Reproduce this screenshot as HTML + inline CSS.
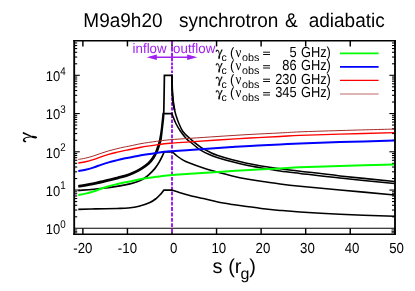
<!DOCTYPE html>
<html><head><meta charset="utf-8"><title>plot</title>
<style>html,body{margin:0;padding:0;background:#fff;}body{width:415px;height:291px;overflow:hidden;position:relative;font-family:"Liberation Sans",sans-serif;}</style>
</head><body>
<svg width="415" height="291" viewBox="0 0 415 291" style="position:absolute;left:0;top:0;will-change:transform">
<rect width="415" height="291" fill="#fff"/>
<g stroke="#000" stroke-width="1.10" fill="none">
<line x1="74.20" y1="216.79" x2="77.20" y2="216.79"/>
<line x1="395.00" y1="216.79" x2="392.00" y2="216.79"/>
<line x1="74.20" y1="210.05" x2="77.20" y2="210.05"/>
<line x1="395.00" y1="210.05" x2="392.00" y2="210.05"/>
<line x1="74.20" y1="205.27" x2="77.20" y2="205.27"/>
<line x1="395.00" y1="205.27" x2="392.00" y2="205.27"/>
<line x1="74.20" y1="201.56" x2="77.20" y2="201.56"/>
<line x1="395.00" y1="201.56" x2="392.00" y2="201.56"/>
<line x1="74.20" y1="198.54" x2="77.20" y2="198.54"/>
<line x1="395.00" y1="198.54" x2="392.00" y2="198.54"/>
<line x1="74.20" y1="195.97" x2="77.20" y2="195.97"/>
<line x1="395.00" y1="195.97" x2="392.00" y2="195.97"/>
<line x1="74.20" y1="193.76" x2="77.20" y2="193.76"/>
<line x1="395.00" y1="193.76" x2="392.00" y2="193.76"/>
<line x1="74.20" y1="191.80" x2="77.20" y2="191.80"/>
<line x1="395.00" y1="191.80" x2="392.00" y2="191.80"/>
<line x1="74.20" y1="190.05" x2="79.80" y2="190.05"/>
<line x1="395.00" y1="190.05" x2="389.40" y2="190.05"/>
<line x1="74.20" y1="178.54" x2="77.20" y2="178.54"/>
<line x1="395.00" y1="178.54" x2="392.00" y2="178.54"/>
<line x1="74.20" y1="171.80" x2="77.20" y2="171.80"/>
<line x1="395.00" y1="171.80" x2="392.00" y2="171.80"/>
<line x1="74.20" y1="167.02" x2="77.20" y2="167.02"/>
<line x1="395.00" y1="167.02" x2="392.00" y2="167.02"/>
<line x1="74.20" y1="163.31" x2="77.20" y2="163.31"/>
<line x1="395.00" y1="163.31" x2="392.00" y2="163.31"/>
<line x1="74.20" y1="160.29" x2="77.20" y2="160.29"/>
<line x1="395.00" y1="160.29" x2="392.00" y2="160.29"/>
<line x1="74.20" y1="157.72" x2="77.20" y2="157.72"/>
<line x1="395.00" y1="157.72" x2="392.00" y2="157.72"/>
<line x1="74.20" y1="155.51" x2="77.20" y2="155.51"/>
<line x1="395.00" y1="155.51" x2="392.00" y2="155.51"/>
<line x1="74.20" y1="153.55" x2="77.20" y2="153.55"/>
<line x1="395.00" y1="153.55" x2="392.00" y2="153.55"/>
<line x1="74.20" y1="151.80" x2="79.80" y2="151.80"/>
<line x1="395.00" y1="151.80" x2="389.40" y2="151.80"/>
<line x1="74.20" y1="140.29" x2="77.20" y2="140.29"/>
<line x1="395.00" y1="140.29" x2="392.00" y2="140.29"/>
<line x1="74.20" y1="133.55" x2="77.20" y2="133.55"/>
<line x1="395.00" y1="133.55" x2="392.00" y2="133.55"/>
<line x1="74.20" y1="128.77" x2="77.20" y2="128.77"/>
<line x1="395.00" y1="128.77" x2="392.00" y2="128.77"/>
<line x1="74.20" y1="125.06" x2="77.20" y2="125.06"/>
<line x1="395.00" y1="125.06" x2="392.00" y2="125.06"/>
<line x1="74.20" y1="122.04" x2="77.20" y2="122.04"/>
<line x1="395.00" y1="122.04" x2="392.00" y2="122.04"/>
<line x1="74.20" y1="119.47" x2="77.20" y2="119.47"/>
<line x1="395.00" y1="119.47" x2="392.00" y2="119.47"/>
<line x1="74.20" y1="117.26" x2="77.20" y2="117.26"/>
<line x1="395.00" y1="117.26" x2="392.00" y2="117.26"/>
<line x1="74.20" y1="115.30" x2="77.20" y2="115.30"/>
<line x1="395.00" y1="115.30" x2="392.00" y2="115.30"/>
<line x1="74.20" y1="113.55" x2="79.80" y2="113.55"/>
<line x1="395.00" y1="113.55" x2="389.40" y2="113.55"/>
<line x1="74.20" y1="102.04" x2="77.20" y2="102.04"/>
<line x1="395.00" y1="102.04" x2="392.00" y2="102.04"/>
<line x1="74.20" y1="95.30" x2="77.20" y2="95.30"/>
<line x1="395.00" y1="95.30" x2="392.00" y2="95.30"/>
<line x1="74.20" y1="90.52" x2="77.20" y2="90.52"/>
<line x1="395.00" y1="90.52" x2="392.00" y2="90.52"/>
<line x1="74.20" y1="86.81" x2="77.20" y2="86.81"/>
<line x1="395.00" y1="86.81" x2="392.00" y2="86.81"/>
<line x1="74.20" y1="83.79" x2="77.20" y2="83.79"/>
<line x1="395.00" y1="83.79" x2="392.00" y2="83.79"/>
<line x1="74.20" y1="81.22" x2="77.20" y2="81.22"/>
<line x1="395.00" y1="81.22" x2="392.00" y2="81.22"/>
<line x1="74.20" y1="79.01" x2="77.20" y2="79.01"/>
<line x1="395.00" y1="79.01" x2="392.00" y2="79.01"/>
<line x1="74.20" y1="77.05" x2="77.20" y2="77.05"/>
<line x1="395.00" y1="77.05" x2="392.00" y2="77.05"/>
<line x1="74.20" y1="75.30" x2="79.80" y2="75.30"/>
<line x1="395.00" y1="75.30" x2="389.40" y2="75.30"/>
<line x1="74.20" y1="63.79" x2="77.20" y2="63.79"/>
<line x1="395.00" y1="63.79" x2="392.00" y2="63.79"/>
<line x1="74.20" y1="57.05" x2="77.20" y2="57.05"/>
<line x1="395.00" y1="57.05" x2="392.00" y2="57.05"/>
<line x1="74.20" y1="52.27" x2="77.20" y2="52.27"/>
<line x1="395.00" y1="52.27" x2="392.00" y2="52.27"/>
<line x1="74.20" y1="48.56" x2="77.20" y2="48.56"/>
<line x1="395.00" y1="48.56" x2="392.00" y2="48.56"/>
<line x1="74.20" y1="45.54" x2="77.20" y2="45.54"/>
<line x1="395.00" y1="45.54" x2="392.00" y2="45.54"/>
<line x1="74.20" y1="42.97" x2="77.20" y2="42.97"/>
<line x1="395.00" y1="42.97" x2="392.00" y2="42.97"/>
</g>
<g stroke="#000" stroke-width="1.45" fill="none">
<line x1="82.88" y1="234.30" x2="82.88" y2="228.30"/>
<line x1="82.88" y1="40.80" x2="82.88" y2="46.40"/>
<line x1="127.44" y1="234.30" x2="127.44" y2="228.30"/>
<line x1="127.44" y1="40.80" x2="127.44" y2="46.40"/>
<line x1="172.00" y1="234.30" x2="172.00" y2="228.30"/>
<line x1="172.00" y1="40.80" x2="172.00" y2="46.40"/>
<line x1="216.56" y1="234.30" x2="216.56" y2="228.30"/>
<line x1="216.56" y1="40.80" x2="216.56" y2="46.40"/>
<line x1="261.12" y1="234.30" x2="261.12" y2="228.30"/>
<line x1="261.12" y1="40.80" x2="261.12" y2="46.40"/>
<line x1="305.68" y1="234.30" x2="305.68" y2="228.30"/>
<line x1="305.68" y1="40.80" x2="305.68" y2="46.40"/>
<line x1="350.24" y1="234.30" x2="350.24" y2="228.30"/>
<line x1="350.24" y1="40.80" x2="350.24" y2="46.40"/>
<line x1="394.80" y1="234.30" x2="394.80" y2="228.30"/>
<line x1="394.80" y1="40.80" x2="394.80" y2="46.40"/>
</g>
<g stroke="#000" stroke-width="0.90" fill="none">
<line x1="74.20" y1="229.90" x2="77.20" y2="229.90"/>
<line x1="395.00" y1="229.90" x2="391.50" y2="229.90"/>
<line x1="74.20" y1="231.40" x2="77.20" y2="231.40"/>
<line x1="395.00" y1="231.40" x2="391.50" y2="231.40"/>
<line x1="74.20" y1="232.75" x2="77.20" y2="232.75"/>
<line x1="395.00" y1="232.75" x2="391.50" y2="232.75"/>
</g>
<line x1="74.20" y1="228.30" x2="395.00" y2="228.30" stroke="#000" stroke-width="1.1"/>
<line x1="172.0" y1="40.80" x2="172.0" y2="234.30" stroke="#a020f0" stroke-width="2.0" stroke-dasharray="3.40 2.10 5.30 1.10 8.50 1.20 2.90 1.00 2.90 1.20 2.60 1.20 3.48 1.44 3.06 1.44 3.16 1.44 3.26 1.44 3.26 1.44 3.16 1.44 3.56 1.44 3.36 1.44 6.06 1.44 3.51 1.44 3.46 1.44 3.71 1.44 3.71 1.44 3.71 1.44 3.76 1.44 3.76 1.44 4.16 1.44 3.91 1.44 4.01 1.44 4.06 1.44 3.56 1.44 3.26 1.44 3.26 1.44 3.71 1.44 3.71 1.44 3.71 1.44 4.11 1.44 3.96 1.44 3.86 1.44 3.86 1.44 3.66 1.44 0.68 5.00"/>
<line x1="150" y1="57.30" x2="194" y2="57.30" stroke="#a020f0" stroke-width="1.4"/>
<path d="M146.7 57.30 L156.8 54.60 L156.8 60.00 Z" fill="#a020f0"/>
<path d="M197.3 57.30 L187.2 54.60 L187.2 60.00 Z" fill="#a020f0"/>
<g stroke="#000" stroke-width="1.55" fill="none" stroke-linejoin="miter" stroke-linecap="butt">
<path d="M172.00 75.30 C172.02 77.25 172.00 83.58 172.10 87.00 C172.20 90.42 172.37 92.90 172.60 95.80 C172.83 98.70 173.17 102.03 173.50 104.40 C173.83 106.77 174.17 108.12 174.60 110.00 C175.03 111.88 175.38 113.45 176.10 115.70 C176.82 117.95 177.80 120.92 178.90 123.50 C180.00 126.08 180.98 128.80 182.70 131.20 C184.42 133.60 186.22 135.25 189.20 137.90 C192.18 140.55 196.98 144.63 200.60 147.10 C204.22 149.57 208.03 151.32 210.90 152.70 C213.77 154.08 214.23 154.23 217.80 155.40 C221.37 156.57 227.47 158.40 232.30 159.70 C237.13 161.00 241.98 162.17 246.80 163.20 C251.62 164.23 255.67 164.97 261.20 165.90 C266.73 166.83 273.53 167.92 280.00 168.80 C286.47 169.68 290.00 170.02 300.00 171.20 C310.00 172.38 324.25 174.18 340.00 175.90 C355.75 177.62 385.42 180.57 394.50 181.50"/>
<path d="M171.90 113.55 C172.03 113.91 172.03 114.04 172.70 115.70 C173.37 117.36 174.60 120.92 175.90 123.50 C177.20 126.08 178.72 128.63 180.50 131.20 C182.28 133.77 184.97 137.12 186.60 138.90 C188.23 140.68 187.97 140.02 190.30 141.90 C192.63 143.78 197.17 147.97 200.60 150.20 C204.03 152.43 208.03 154.05 210.90 155.30 C213.77 156.55 214.23 156.62 217.80 157.70 C221.37 158.78 227.47 160.53 232.30 161.80 C237.13 163.07 241.98 164.28 246.80 165.30 C251.62 166.32 255.67 166.97 261.20 167.90 C266.73 168.83 273.53 169.98 280.00 170.90 C286.47 171.82 290.00 172.20 300.00 173.40 C310.00 174.60 324.25 176.42 340.00 178.10 C355.75 179.78 385.42 182.60 394.50 183.50"/>
<path d="M172.00 151.80 C172.17 151.92 172.17 151.80 173.00 152.50 C173.83 153.20 175.32 154.73 177.00 156.00 C178.68 157.27 181.12 158.97 183.10 160.10 C185.08 161.23 185.52 161.47 188.90 162.80 C192.28 164.13 198.58 166.52 203.40 168.10 C208.22 169.68 212.98 171.00 217.80 172.30 C222.62 173.60 227.47 174.80 232.30 175.90 C237.13 177.00 241.98 178.02 246.80 178.90 C251.62 179.78 255.67 180.35 261.20 181.20 C266.73 182.05 273.53 183.15 280.00 184.00 C286.47 184.85 290.00 185.30 300.00 186.30 C310.00 187.30 324.25 188.57 340.00 190.00 C355.75 191.43 385.42 194.08 394.50 194.90"/>
<path d="M171.60 190.05 C173.00 190.49 177.12 191.84 180.00 192.70 C182.88 193.56 185.00 194.22 188.90 195.20 C192.80 196.18 198.58 197.47 203.40 198.60 C208.22 199.73 212.98 201.03 217.80 202.00 C222.62 202.97 227.47 203.67 232.30 204.40 C237.13 205.13 241.98 205.73 246.80 206.40 C251.62 207.07 255.67 207.73 261.20 208.40 C266.73 209.07 273.53 209.80 280.00 210.40 C286.47 211.00 290.00 211.37 300.00 212.00 C310.00 212.63 324.25 213.48 340.00 214.20 C355.75 214.92 385.42 215.95 394.50 216.30"/>
</g>
<g stroke="#000" stroke-width="1.7" fill="none" stroke-linejoin="miter" stroke-linecap="butt">
<path d="M78.39 186.84 C81.18 186.36 89.82 185.02 95.11 183.94 C100.40 182.85 106.29 181.27 110.13 180.33 C113.97 179.40 115.55 178.98 118.13 178.33 C120.72 177.68 123.15 177.21 125.66 176.42 C128.18 175.64 130.62 174.78 133.23 173.60 C135.83 172.42 138.65 171.02 141.29 169.37 C143.93 167.72 146.99 165.61 149.07 163.71 C151.15 161.80 152.45 159.82 153.75 157.91 C155.06 156.00 155.99 154.25 156.90 152.23 C157.81 150.20 158.57 147.78 159.22 145.77 C159.88 143.76 160.35 142.78 160.83 140.15 C161.31 137.52 161.70 133.36 162.10 130.00 C162.50 126.64 162.97 122.83 163.25 120.00 C163.53 117.17 163.61 117.17 163.75 113.00 C163.89 108.83 163.99 101.28 164.10 95.00 C164.21 88.72 164.35 78.58 164.40 75.30 L172.60 75.30"/>
<path d="M78.21 185.76 C80.99 185.28 89.61 183.94 94.89 182.86 C100.17 181.78 106.04 180.20 109.87 179.27 C113.70 178.33 115.29 177.92 117.87 177.27 C120.44 176.62 122.85 176.15 125.34 175.38 C127.82 174.60 130.21 173.76 132.77 172.60 C135.34 171.44 138.12 170.05 140.71 168.43 C143.30 166.82 146.31 164.75 148.33 162.89 C150.35 161.04 151.58 159.14 152.85 157.29 C154.11 155.44 155.01 153.75 155.90 151.77 C156.79 149.80 157.53 147.42 158.18 145.43 C158.82 143.44 159.23 142.42 159.77 139.85 C160.31 137.28 160.95 133.31 161.40 130.00 C161.85 126.69 162.20 122.74 162.50 120.00 C162.80 117.26 163.08 114.62 163.20 113.55 L172.50 113.55"/>
<path d="M78.30 190.60 C82.07 190.25 93.95 189.28 100.90 188.50 C107.85 187.72 115.15 186.67 120.00 185.90 C124.85 185.13 127.03 184.63 130.00 183.90 C132.97 183.17 135.55 182.37 137.80 181.50 C140.05 180.63 141.68 179.82 143.50 178.70 C145.32 177.58 146.82 176.48 148.70 174.80 C150.58 173.12 153.00 170.80 154.80 168.60 C156.60 166.40 158.20 163.78 159.50 161.60 C160.80 159.42 161.83 157.13 162.60 155.50 C163.37 153.87 163.85 152.42 164.10 151.80 L172.60 151.80"/>
<path d="M78.30 209.30 C81.20 209.23 89.18 209.03 95.70 208.90 C102.22 208.77 111.98 208.65 117.40 208.50 C122.82 208.35 124.60 208.37 128.20 208.00 C131.80 207.63 135.38 207.20 139.00 206.30 C142.62 205.40 147.00 203.93 149.90 202.60 C152.80 201.27 154.60 199.72 156.40 198.30 C158.20 196.88 159.67 195.18 160.70 194.10 C161.73 193.02 162.07 192.48 162.60 191.80 C163.13 191.12 163.68 190.34 163.90 190.05 L172.20 190.05"/>
<path d="M172.00 75.30 C172.02 77.25 172.00 83.58 172.10 87.00 C172.20 90.42 172.37 92.90 172.60 95.80 C172.83 98.70 173.17 102.03 173.50 104.40 C173.83 106.77 174.42 109.07 174.60 110.00" stroke-width="1.95"/>
</g>
<path d="M78.30 194.90 C79.50 194.68 83.02 194.17 85.50 193.60 C87.98 193.03 90.63 192.30 93.20 191.50 C95.77 190.70 98.32 189.67 100.90 188.80 C103.48 187.93 106.12 187.05 108.70 186.30 C111.28 185.55 113.83 184.93 116.40 184.30 C118.97 183.67 121.83 182.98 124.10 182.50 C126.37 182.02 127.18 181.97 130.00 181.40 C132.82 180.83 136.60 179.87 141.00 179.10 C145.40 178.33 151.57 177.45 156.40 176.80 C161.23 176.15 164.40 175.70 170.00 175.20 C175.60 174.70 182.00 174.35 190.00 173.80 C198.00 173.25 208.00 172.55 218.00 171.90 C228.00 171.25 239.67 170.48 250.00 169.90 C260.33 169.32 271.67 168.83 280.00 168.40 C288.33 167.97 290.00 167.70 300.00 167.30 C310.00 166.90 324.25 166.47 340.00 166.00 C355.75 165.53 385.42 164.75 394.50 164.50" stroke="#00ff00" stroke-width="2" fill="none"/>
<path d="M78.30 171.00 C79.50 170.78 83.02 170.27 85.50 169.70 C87.98 169.13 90.63 168.40 93.20 167.60 C95.77 166.80 98.32 165.77 100.90 164.90 C103.48 164.03 106.12 163.15 108.70 162.40 C111.28 161.65 113.83 161.03 116.40 160.40 C118.97 159.77 121.83 159.08 124.10 158.60 C126.37 158.12 127.18 158.07 130.00 157.50 C132.82 156.93 136.60 155.97 141.00 155.20 C145.40 154.43 151.57 153.55 156.40 152.90 C161.23 152.25 164.40 151.80 170.00 151.30 C175.60 150.80 182.00 150.45 190.00 149.90 C198.00 149.35 208.00 148.65 218.00 148.00 C228.00 147.35 239.67 146.58 250.00 146.00 C260.33 145.42 271.67 144.93 280.00 144.50 C288.33 144.07 290.00 143.80 300.00 143.40 C310.00 143.00 324.25 142.57 340.00 142.10 C355.75 141.63 385.42 140.85 394.50 140.60" stroke="#0000ff" stroke-width="2" fill="none"/>
<path d="M78.30 163.00 C79.50 162.78 83.02 162.27 85.50 161.70 C87.98 161.13 90.63 160.40 93.20 159.60 C95.77 158.80 98.32 157.77 100.90 156.90 C103.48 156.03 106.12 155.15 108.70 154.40 C111.28 153.65 113.83 153.03 116.40 152.40 C118.97 151.77 121.83 151.08 124.10 150.60 C126.37 150.12 127.18 150.07 130.00 149.50 C132.82 148.93 136.60 147.97 141.00 147.20 C145.40 146.43 151.57 145.55 156.40 144.90 C161.23 144.25 164.40 143.80 170.00 143.30 C175.60 142.80 182.00 142.45 190.00 141.90 C198.00 141.35 208.00 140.65 218.00 140.00 C228.00 139.35 239.67 138.58 250.00 138.00 C260.33 137.42 271.67 136.93 280.00 136.50 C288.33 136.07 290.00 135.80 300.00 135.40 C310.00 135.00 324.25 134.57 340.00 134.10 C355.75 133.63 385.42 132.85 394.50 132.60" stroke="#ff0000" stroke-width="1.4" fill="none"/>
<path d="M78.30 159.45 C79.50 159.23 83.02 158.72 85.50 158.15 C87.98 157.58 90.63 156.85 93.20 156.05 C95.77 155.25 98.32 154.22 100.90 153.35 C103.48 152.48 106.12 151.60 108.70 150.85 C111.28 150.10 113.83 149.48 116.40 148.85 C118.97 148.22 121.83 147.53 124.10 147.05 C126.37 146.57 127.18 146.52 130.00 145.95 C132.82 145.38 136.60 144.42 141.00 143.65 C145.40 142.88 151.57 142.00 156.40 141.35 C161.23 140.70 164.40 140.25 170.00 139.75 C175.60 139.25 182.00 138.90 190.00 138.35 C198.00 137.80 208.00 137.10 218.00 136.45 C228.00 135.80 239.67 135.03 250.00 134.45 C260.33 133.87 271.67 133.38 280.00 132.95 C288.33 132.52 290.00 132.25 300.00 131.85 C310.00 131.45 324.25 131.02 340.00 130.55 C355.75 130.08 385.42 129.30 394.50 129.05" stroke="#a52a2a" stroke-width="1.0" fill="none"/>
<line x1="340" y1="53.4" x2="378.6" y2="53.4" stroke="#00ff00" stroke-width="1.8"/>
<line x1="340" y1="66.8" x2="378.6" y2="66.8" stroke="#0000ff" stroke-width="1.8"/>
<line x1="340" y1="80.4" x2="378.6" y2="80.4" stroke="#ff0000" stroke-width="1.3"/>
<line x1="340" y1="94.0" x2="378.6" y2="94.0" stroke="#a52a2a" stroke-width="0.7"/>
<path d="M74.20 40.00V235.10 M395.00 40.00V235.10" stroke="#000" stroke-width="1.85" fill="none"/>
<path d="M73.30 40.80H395.90 M73.30 234.30H395.90" stroke="#000" stroke-width="1.6" fill="none"/>
<text transform="translate(83.30,27.00) scale(1,1.045)" font-size="19.00" text-anchor="start" fill="#000" font-family="Liberation Sans, sans-serif" text-rendering="geometricPrecision">M9a9h20</text>
<text transform="translate(179.00,27.00) scale(1,1.045)" font-size="19.00" text-anchor="start" fill="#000" font-family="Liberation Sans, sans-serif" text-rendering="geometricPrecision">synchrotron</text>
<text transform="translate(285.00,27.00) scale(1,1.045)" font-size="19.00" text-anchor="start" fill="#000" font-family="Liberation Sans, sans-serif" text-rendering="geometricPrecision">&amp;</text>
<text transform="translate(308.70,27.30) scale(1,1.045)" font-size="19.00" text-anchor="start" fill="#000" font-family="Liberation Sans, sans-serif" text-rendering="geometricPrecision">adiabatic</text>
<text transform="translate(82.88,252.55) scale(1,1.100)" font-size="13.25" text-anchor="middle" fill="#000" font-family="Liberation Sans, sans-serif" text-rendering="geometricPrecision">-20</text>
<text transform="translate(127.44,252.55) scale(1,1.100)" font-size="13.25" text-anchor="middle" fill="#000" font-family="Liberation Sans, sans-serif" text-rendering="geometricPrecision">-10</text>
<text transform="translate(173.80,252.55) scale(1,1.100)" font-size="13.25" text-anchor="middle" fill="#000" font-family="Liberation Sans, sans-serif" text-rendering="geometricPrecision">0</text>
<text transform="translate(218.76,252.55) scale(1,1.100)" font-size="13.25" text-anchor="middle" fill="#000" font-family="Liberation Sans, sans-serif" text-rendering="geometricPrecision">10</text>
<text transform="translate(262.92,252.55) scale(1,1.100)" font-size="13.25" text-anchor="middle" fill="#000" font-family="Liberation Sans, sans-serif" text-rendering="geometricPrecision">20</text>
<text transform="translate(307.48,252.55) scale(1,1.100)" font-size="13.25" text-anchor="middle" fill="#000" font-family="Liberation Sans, sans-serif" text-rendering="geometricPrecision">30</text>
<text transform="translate(352.04,252.55) scale(1,1.100)" font-size="13.25" text-anchor="middle" fill="#000" font-family="Liberation Sans, sans-serif" text-rendering="geometricPrecision">40</text>
<text transform="translate(396.60,252.55) scale(1,1.100)" font-size="13.25" text-anchor="middle" fill="#000" font-family="Liberation Sans, sans-serif" text-rendering="geometricPrecision">50</text>
<text transform="translate(60.20,234.20) scale(1,1.090)" font-size="13.00" text-anchor="end" fill="#000" font-family="Liberation Sans, sans-serif" text-rendering="geometricPrecision">10</text>
<text transform="translate(60.35,227.50) scale(1,1.150)" font-size="9.80" text-anchor="start" fill="#000" font-family="Liberation Sans, sans-serif" text-rendering="geometricPrecision">0</text>
<text transform="translate(60.20,195.95) scale(1,1.090)" font-size="13.00" text-anchor="end" fill="#000" font-family="Liberation Sans, sans-serif" text-rendering="geometricPrecision">10</text>
<text transform="translate(60.35,189.25) scale(1,1.150)" font-size="9.80" text-anchor="start" fill="#000" font-family="Liberation Sans, sans-serif" text-rendering="geometricPrecision">1</text>
<text transform="translate(60.20,157.70) scale(1,1.090)" font-size="13.00" text-anchor="end" fill="#000" font-family="Liberation Sans, sans-serif" text-rendering="geometricPrecision">10</text>
<text transform="translate(60.35,151.00) scale(1,1.150)" font-size="9.80" text-anchor="start" fill="#000" font-family="Liberation Sans, sans-serif" text-rendering="geometricPrecision">2</text>
<text transform="translate(60.20,119.45) scale(1,1.090)" font-size="13.00" text-anchor="end" fill="#000" font-family="Liberation Sans, sans-serif" text-rendering="geometricPrecision">10</text>
<text transform="translate(60.35,112.75) scale(1,1.150)" font-size="9.80" text-anchor="start" fill="#000" font-family="Liberation Sans, sans-serif" text-rendering="geometricPrecision">3</text>
<text transform="translate(60.20,81.20) scale(1,1.090)" font-size="13.00" text-anchor="end" fill="#000" font-family="Liberation Sans, sans-serif" text-rendering="geometricPrecision">10</text>
<text transform="translate(60.35,74.50) scale(1,1.150)" font-size="9.80" text-anchor="start" fill="#000" font-family="Liberation Sans, sans-serif" text-rendering="geometricPrecision">4</text>
<text transform="translate(212.60,272.80) scale(1,1.000)" font-size="20.00" text-anchor="start" fill="#000" font-family="Liberation Sans, sans-serif" text-rendering="geometricPrecision">s (r</text>
<text transform="translate(240.40,278.70) scale(1,1.000)" font-size="16.00" text-anchor="start" fill="#000" font-family="Liberation Sans, sans-serif" text-rendering="geometricPrecision">g</text>
<text transform="translate(249.30,272.80) scale(1,1.000)" font-size="20.00" text-anchor="start" fill="#000" font-family="Liberation Sans, sans-serif" text-rendering="geometricPrecision">)</text>
<text transform="translate(132.60,52.50) scale(1,1.030)" font-size="13.30" text-anchor="start" fill="#a020f0" font-family="Liberation Sans, sans-serif" text-rendering="geometricPrecision">inflow</text>
<text transform="translate(173.10,52.50) scale(1,1.030)" font-size="13.30" text-anchor="start" fill="#a020f0" font-family="Liberation Sans, sans-serif" text-rendering="geometricPrecision">outflow</text>
<g fill="#000" stroke="none"><path d="M22.8 132.3 L23.4 132.1 L31.8 136.1 L31.4 136.9 L22.9 133.8 Z"/><path d="M31.3 136.2 C28.0 136.5 25.2 137.1 23.8 138.3 C22.4 139.6 22.6 141.2 24.0 141.9 C24.8 142.3 25.8 142.3 26.3 141.9 L25.9 141.0 C25.2 141.0 24.5 140.5 24.5 139.8 C24.6 138.8 25.8 138.1 27.8 137.7 C29.0 137.4 30.2 137.3 31.4 137.2 Z"/><ellipse cx="34.1" cy="137.1" rx="3.1" ry="1.2" transform="rotate(7 34.1 137.1)"/></g>
<g fill="#000" stroke="#000" stroke-width="0.25" transform="translate(215.80,49.60) scale(0.660) rotate(90) translate(-22.8,-142.2)"><path d="M22.8 132.3 L23.4 132.1 L31.8 136.1 L31.4 136.9 L22.9 133.8 Z"/><path d="M31.3 136.2 C28.0 136.5 25.2 137.1 23.8 138.3 C22.4 139.6 22.6 141.2 24.0 141.9 C24.8 142.3 25.8 142.3 26.3 141.9 L25.9 141.0 C25.2 141.0 24.5 140.5 24.5 139.8 C24.6 138.8 25.8 138.1 27.8 137.7 C29.0 137.4 30.2 137.3 31.4 137.2 Z"/><ellipse cx="34.1" cy="137.1" rx="3.1" ry="1.2" transform="rotate(7 34.1 137.1)"/></g>
<text transform="translate(221.60,60.50) scale(1,1.000)" font-size="10.50" text-anchor="start" fill="#000" font-family="Liberation Sans, sans-serif" text-rendering="geometricPrecision">c</text>
<text transform="translate(230.10,56.70) scale(1,1.040)" font-size="12.85" text-anchor="start" fill="#000" font-family="Liberation Sans, sans-serif" text-rendering="geometricPrecision">(</text>
<text transform="translate(235.60,56.90) scale(1,1.130)" font-size="12.85" text-anchor="start" fill="#000" font-family="Liberation Serif, serif" text-rendering="geometricPrecision">ν</text>
<text transform="translate(242.00,60.60) scale(1,0.980)" font-size="10.80" text-anchor="start" fill="#000" font-family="Liberation Sans, sans-serif" text-rendering="geometricPrecision">obs</text>
<path d="M263.1 52.20H270 M263.1 54.50H270" stroke="#000" stroke-width="0.95" fill="none"/>
<text transform="translate(296.60,56.90) scale(1,1.130)" font-size="12.85" text-anchor="end" fill="#000" font-family="Liberation Sans, sans-serif" text-rendering="geometricPrecision">5</text>
<text transform="translate(300.90,56.90) scale(1,1.130)" font-size="12.85" text-anchor="start" fill="#000" font-family="Liberation Sans, sans-serif" text-rendering="geometricPrecision">GHz)</text>
<g fill="#000" stroke="#000" stroke-width="0.25" transform="translate(215.80,63.10) scale(0.660) rotate(90) translate(-22.8,-142.2)"><path d="M22.8 132.3 L23.4 132.1 L31.8 136.1 L31.4 136.9 L22.9 133.8 Z"/><path d="M31.3 136.2 C28.0 136.5 25.2 137.1 23.8 138.3 C22.4 139.6 22.6 141.2 24.0 141.9 C24.8 142.3 25.8 142.3 26.3 141.9 L25.9 141.0 C25.2 141.0 24.5 140.5 24.5 139.8 C24.6 138.8 25.8 138.1 27.8 137.7 C29.0 137.4 30.2 137.3 31.4 137.2 Z"/><ellipse cx="34.1" cy="137.1" rx="3.1" ry="1.2" transform="rotate(7 34.1 137.1)"/></g>
<text transform="translate(221.60,74.00) scale(1,1.000)" font-size="10.50" text-anchor="start" fill="#000" font-family="Liberation Sans, sans-serif" text-rendering="geometricPrecision">c</text>
<text transform="translate(230.10,70.20) scale(1,1.040)" font-size="12.85" text-anchor="start" fill="#000" font-family="Liberation Sans, sans-serif" text-rendering="geometricPrecision">(</text>
<text transform="translate(235.60,70.40) scale(1,1.130)" font-size="12.85" text-anchor="start" fill="#000" font-family="Liberation Serif, serif" text-rendering="geometricPrecision">ν</text>
<text transform="translate(242.00,74.10) scale(1,0.980)" font-size="10.80" text-anchor="start" fill="#000" font-family="Liberation Sans, sans-serif" text-rendering="geometricPrecision">obs</text>
<path d="M263.1 65.70H270 M263.1 68.00H270" stroke="#000" stroke-width="0.95" fill="none"/>
<text transform="translate(296.60,70.40) scale(1,1.130)" font-size="12.85" text-anchor="end" fill="#000" font-family="Liberation Sans, sans-serif" text-rendering="geometricPrecision">86</text>
<text transform="translate(300.90,70.40) scale(1,1.130)" font-size="12.85" text-anchor="start" fill="#000" font-family="Liberation Sans, sans-serif" text-rendering="geometricPrecision">GHz)</text>
<g fill="#000" stroke="#000" stroke-width="0.25" transform="translate(215.80,76.60) scale(0.660) rotate(90) translate(-22.8,-142.2)"><path d="M22.8 132.3 L23.4 132.1 L31.8 136.1 L31.4 136.9 L22.9 133.8 Z"/><path d="M31.3 136.2 C28.0 136.5 25.2 137.1 23.8 138.3 C22.4 139.6 22.6 141.2 24.0 141.9 C24.8 142.3 25.8 142.3 26.3 141.9 L25.9 141.0 C25.2 141.0 24.5 140.5 24.5 139.8 C24.6 138.8 25.8 138.1 27.8 137.7 C29.0 137.4 30.2 137.3 31.4 137.2 Z"/><ellipse cx="34.1" cy="137.1" rx="3.1" ry="1.2" transform="rotate(7 34.1 137.1)"/></g>
<text transform="translate(221.60,87.50) scale(1,1.000)" font-size="10.50" text-anchor="start" fill="#000" font-family="Liberation Sans, sans-serif" text-rendering="geometricPrecision">c</text>
<text transform="translate(230.10,83.70) scale(1,1.040)" font-size="12.85" text-anchor="start" fill="#000" font-family="Liberation Sans, sans-serif" text-rendering="geometricPrecision">(</text>
<text transform="translate(235.60,83.90) scale(1,1.130)" font-size="12.85" text-anchor="start" fill="#000" font-family="Liberation Serif, serif" text-rendering="geometricPrecision">ν</text>
<text transform="translate(242.00,87.60) scale(1,0.980)" font-size="10.80" text-anchor="start" fill="#000" font-family="Liberation Sans, sans-serif" text-rendering="geometricPrecision">obs</text>
<path d="M263.1 79.20H270 M263.1 81.50H270" stroke="#000" stroke-width="0.95" fill="none"/>
<text transform="translate(296.60,83.90) scale(1,1.130)" font-size="12.85" text-anchor="end" fill="#000" font-family="Liberation Sans, sans-serif" text-rendering="geometricPrecision">230</text>
<text transform="translate(300.90,83.90) scale(1,1.130)" font-size="12.85" text-anchor="start" fill="#000" font-family="Liberation Sans, sans-serif" text-rendering="geometricPrecision">GHz)</text>
<g fill="#000" stroke="#000" stroke-width="0.25" transform="translate(215.80,90.10) scale(0.660) rotate(90) translate(-22.8,-142.2)"><path d="M22.8 132.3 L23.4 132.1 L31.8 136.1 L31.4 136.9 L22.9 133.8 Z"/><path d="M31.3 136.2 C28.0 136.5 25.2 137.1 23.8 138.3 C22.4 139.6 22.6 141.2 24.0 141.9 C24.8 142.3 25.8 142.3 26.3 141.9 L25.9 141.0 C25.2 141.0 24.5 140.5 24.5 139.8 C24.6 138.8 25.8 138.1 27.8 137.7 C29.0 137.4 30.2 137.3 31.4 137.2 Z"/><ellipse cx="34.1" cy="137.1" rx="3.1" ry="1.2" transform="rotate(7 34.1 137.1)"/></g>
<text transform="translate(221.60,101.00) scale(1,1.000)" font-size="10.50" text-anchor="start" fill="#000" font-family="Liberation Sans, sans-serif" text-rendering="geometricPrecision">c</text>
<text transform="translate(230.10,97.20) scale(1,1.040)" font-size="12.85" text-anchor="start" fill="#000" font-family="Liberation Sans, sans-serif" text-rendering="geometricPrecision">(</text>
<text transform="translate(235.60,97.40) scale(1,1.130)" font-size="12.85" text-anchor="start" fill="#000" font-family="Liberation Serif, serif" text-rendering="geometricPrecision">ν</text>
<text transform="translate(242.00,101.10) scale(1,0.980)" font-size="10.80" text-anchor="start" fill="#000" font-family="Liberation Sans, sans-serif" text-rendering="geometricPrecision">obs</text>
<path d="M263.1 92.70H270 M263.1 95.00H270" stroke="#000" stroke-width="0.95" fill="none"/>
<text transform="translate(296.60,97.40) scale(1,1.130)" font-size="12.85" text-anchor="end" fill="#000" font-family="Liberation Sans, sans-serif" text-rendering="geometricPrecision">345</text>
<text transform="translate(300.90,97.40) scale(1,1.130)" font-size="12.85" text-anchor="start" fill="#000" font-family="Liberation Sans, sans-serif" text-rendering="geometricPrecision">GHz)</text>
</svg>
</body></html>
